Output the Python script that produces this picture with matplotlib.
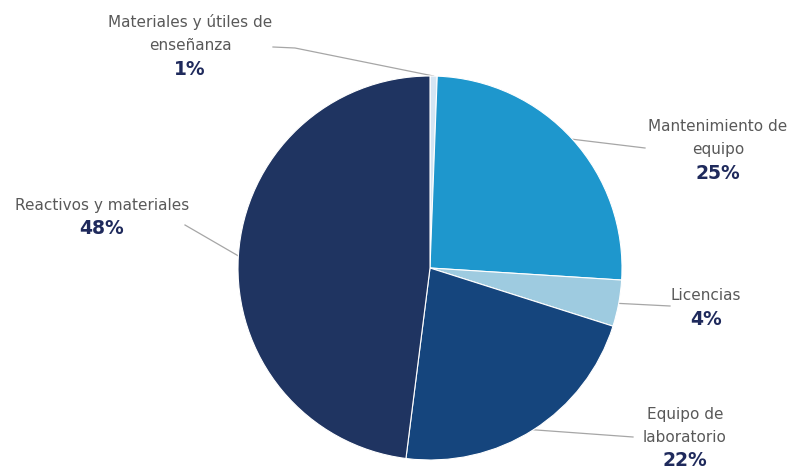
import numpy as np
import matplotlib
matplotlib.use("Agg")
import matplotlib.pyplot as plt

# shares of budget
categorias = ["Materiales y útiles de\nenseñanza", "Mantenimiento de\nequipo", "Licencias",
              "Equipo de\nlaboratorio", "Reactivos y materiales"]
valores = [0.6, 25.4, 3.9, 22.1, 48.0]
colores = ["#d4e5f3", "#1e97cd", "#9ecbe0", "#15457d", "#1f3461"]

# label anchor (pixel coords): text centre x, y of first line; end of leader line
pos_texto = [(190, 22), (718, 126), (706, 296), (685, 414), (102, 205)]
fin_linea = [(273, 47), (645, 148), (670, 306), (633, 437), (185, 225)]
codo = [22, 0, 0, 0, 0]   # short flat piece next to the label

fig = plt.figure(figsize=(7.89, 4.73), dpi=100)
ax = fig.add_axes([0, 0, 1, 1])

cx, cy, r = 430, 268, 192
# y axis is flipped, so counterclock=True in data space looks clockwise on screen
wedges, _ = ax.pie(valores, colors=colores, startangle=-90, counterclock=True,
                   center=(cx, cy), radius=r, frame=True,
                   wedgeprops=dict(edgecolor="white", linewidth=0.8))
ax.set_xlim(0, 789)
ax.set_ylim(473, 0)
ax.set_aspect("equal")
ax.axis("off")

total = sum(valores)
paso = 23.5
for i, w in enumerate(wedges):
    ang = np.deg2rad((w.theta1 + w.theta2) / 2)
    px = cx + r * np.cos(ang)
    py = cy + r * np.sin(ang)
    lx, ly = fin_linea[i]
    xs = [lx]
    ys = [ly]
    if codo[i]:
        xs.append(lx + codo[i])
        ys.append(ly + 1)
    xs.append(px)
    ys.append(py)
    ax.plot(xs, ys, color="#a6a6a6", lw=0.9, zorder=0.5)
    tx, ty = pos_texto[i]
    lineas = categorias[i].split("\n")
    for k, t in enumerate(lineas):
        ax.text(tx, ty + paso * k, t, ha="center", va="center", fontsize=11,
                color="#595959", family="DejaVu Sans")
    pct = "%d%%" % round(valores[i] / total * 100)
    ax.text(tx, ty + paso * len(lineas), pct, ha="center", va="center", fontsize=13.5,
            fontweight="bold", color="#1f2a5c", family="DejaVu Sans")

fig.savefig("out.png", dpi=100)
